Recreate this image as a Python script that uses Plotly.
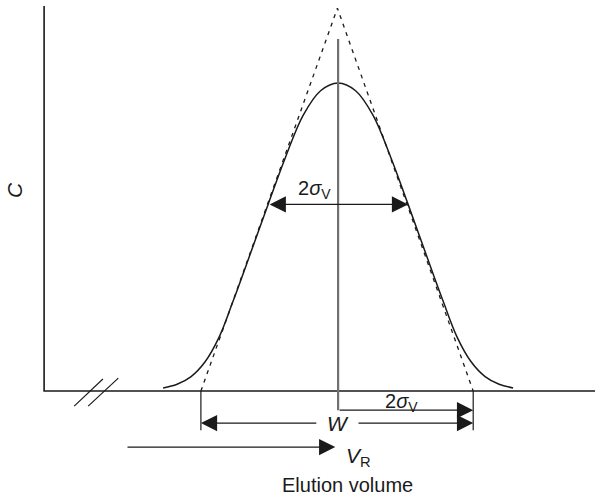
import plotly.graph_objects as go

# ---- data (elution volume in units of sigma, concentration relative to peak) ----
curve_v = [1.70, 1.90, 2.10, 2.30, 2.50, 2.70, 2.95, 3.20, 3.45, 3.70, 3.95, 4.20,
           4.45, 4.70, 4.95, 5.20, 5.45, 5.70, 5.90, 6.10, 6.30, 6.50, 6.70]
curve_c = [0.010, 0.022, 0.047, 0.095, 0.175, 0.292, 0.448, 0.606, 0.760, 0.895, 0.975, 1.000,
           0.975, 0.895, 0.760, 0.606, 0.448, 0.292, 0.175, 0.095, 0.047, 0.022, 0.010]
tangent_v = [2.24, 4.19, 6.13]
tangent_c = [0.0, 1.243, 0.0]
V_R = 4.20
sigma = 1.0
inflection_c = 0.606
W_left, W_right = 2.24, 6.13

XR = [-0.63, 7.87]
YR = [-0.344, 1.2695]

fig = go.Figure()
ink = "#1a1a1a"

# axes
fig.add_trace(go.Scatter(x=[0, 0, XR[1]], y=[1.25, 0, 0], mode="lines",
                         line=dict(color=ink, width=1.6), hoverinfo="skip"))
# axis break marks
fig.add_trace(go.Scatter(x=[0.43, 0.84], y=[-0.049, 0.039], mode="lines",
                         line=dict(color=ink, width=1.2), hoverinfo="skip"))
fig.add_trace(go.Scatter(x=[0.63, 1.06], y=[-0.049, 0.042], mode="lines",
                         line=dict(color=ink, width=1.2), hoverinfo="skip"))
# tangent triangle
fig.add_trace(go.Scatter(x=tangent_v, y=tangent_c, mode="lines",
                         line=dict(color=ink, width=1.3, dash="4px,5px"), hoverinfo="skip"))
# peak
fig.add_trace(go.Scatter(x=curve_v, y=curve_c, mode="lines",
                         line=dict(color=ink, width=1.5, shape="spline", smoothing=1.0),
                         hoverinfo="skip"))
# centre line
fig.add_trace(go.Scatter(x=[V_R, V_R], y=[1.143, -0.062], mode="lines",
                         line=dict(color="#707070", width=2.2), hoverinfo="skip"))
# W end ticks
for v in (W_left, W_right):
    fig.add_trace(go.Scatter(x=[v, v], y=[0, -0.127], mode="lines",
                             line=dict(color=ink, width=1.2), hoverinfo="skip"))

arrow = dict(showarrow=True, text="", xref="x", yref="y", axref="x", ayref="y",
             arrowhead=2, arrowsize=2.5, arrowwidth=1.3, arrowcolor=ink)

ann = []
# upper 2 sigma (double headed)
ann.append(dict(arrow, x=V_R + sigma, y=inflection_c, ax=V_R - sigma, ay=inflection_c,
                arrowside="end+start", startarrowhead=2, startarrowsize=2.5))
# lower 2 sigma
ann.append(dict(arrow, x=W_right, y=-0.062, ax=V_R, ay=-0.062))
# W arrows
ann.append(dict(arrow, x=W_left, y=-0.104, ax=3.91, ay=-0.104))
ann.append(dict(arrow, x=W_right, y=-0.104, ax=4.47, ay=-0.104))
# V_R arrow
ann.append(dict(arrow, x=V_R - 0.04, y=-0.182, ax=1.17, ay=-0.182))

txt_font = dict(family="Liberation Sans, Arial, sans-serif", size=20, color=ink)
def label(x, y, text, size=20, **kw):
    return dict(x=x, y=y, xref="x", yref="y", text=text, showarrow=False,
                font=dict(txt_font, size=size), **kw)

ann.append(label(3.86, 0.655, "2<i>σ</i><sub>V</sub>", 20))
ann.append(label(5.11, -0.036, "2<i>σ</i><sub>V</sub>", 20))
ann.append(label(V_R, -0.104, "<i>W</i>", 21))
ann.append(label(4.49, -0.214, "<i>V</i><sub>R</sub>", 21))
ann.append(label(4.33, -0.305, "Elution volume", 20))
ann.append(label(-0.414, 0.653, "<i>C</i>", 21, textangle=-90))

fig.update_layout(
    width=595, height=497, margin=dict(l=0, r=0, t=0, b=0, pad=0),
    paper_bgcolor="white", plot_bgcolor="white", showlegend=False,
    xaxis=dict(range=XR, visible=False, fixedrange=True),
    yaxis=dict(range=YR, visible=False, fixedrange=True),
    annotations=ann,
)
fig.write_html("out.html", config={"displayModeBar": False},
               post_script="document.body.style.margin='0';document.body.style.overflow='hidden';")
